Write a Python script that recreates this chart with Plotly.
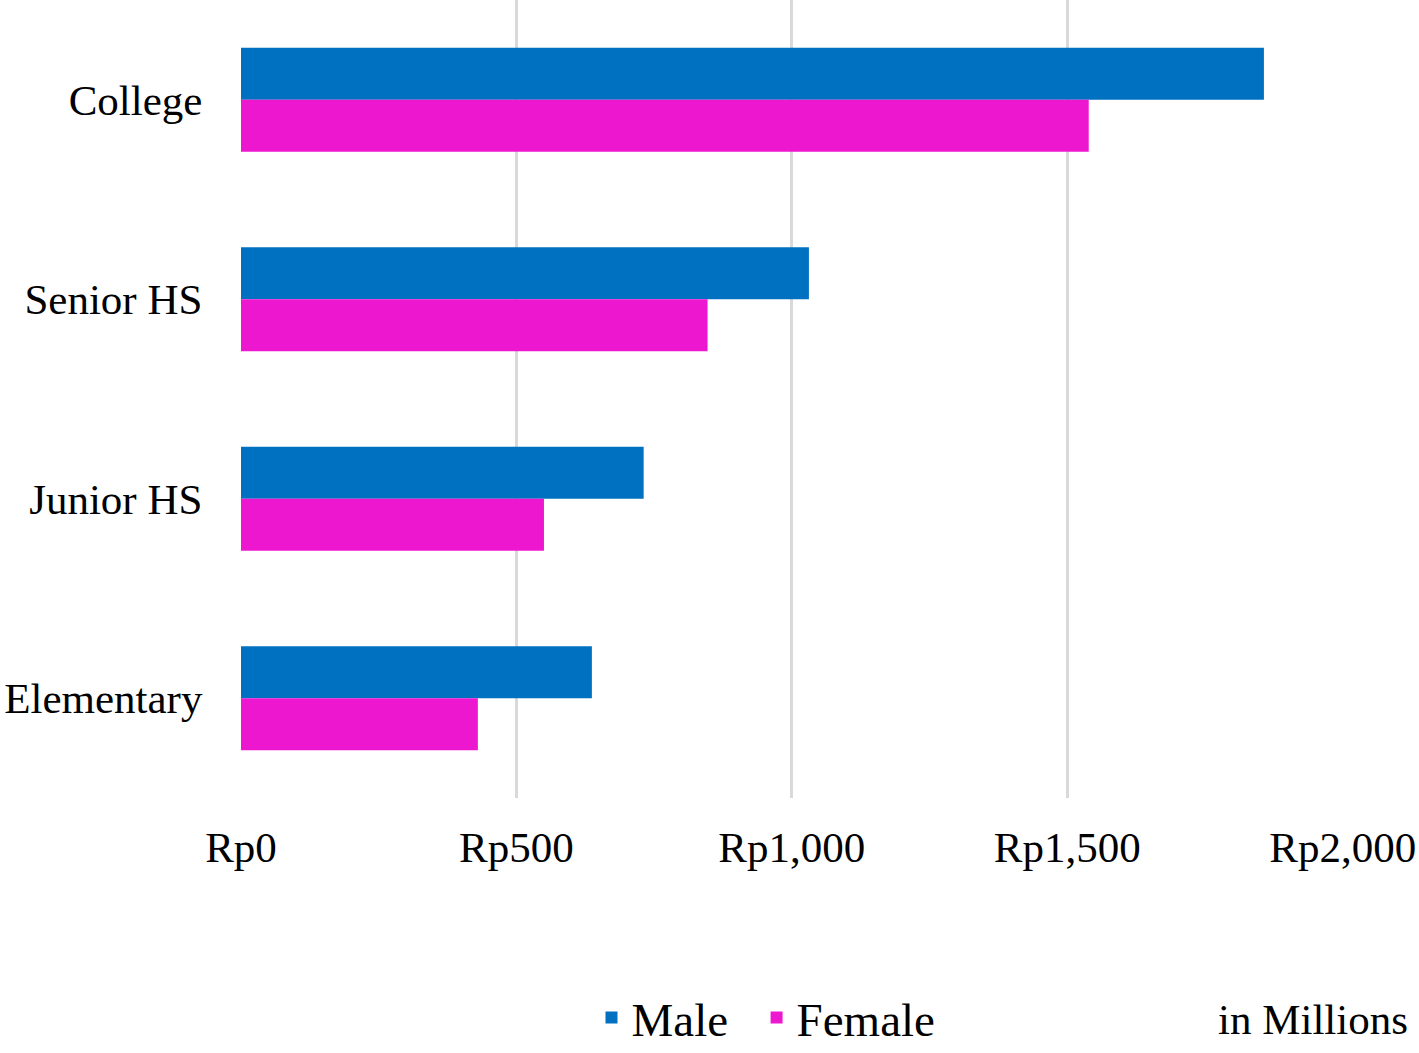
import plotly.graph_objects as go

categories = ["College", "Senior HS", "Junior HS", "Elementary"]
male = [1857, 1031, 731, 637]
female = [1539, 847, 550, 430]
tick_vals = [0, 500, 1000, 1500, 2000]
tick_text = ["Rp0", "Rp500", "Rp1,000", "Rp1,500", "Rp2,000"]

W, H = 1419, 1053
L = 241
R = W - 1343
T = 0
B = H - 798
pw, ph = W - L - R, H - T - B

font = "Liberation Serif, Times New Roman, serif"

fig = go.Figure()
fig.add_trace(go.Bar(y=categories, x=male, name="Male\u00a0\u00a0", orientation="h",
                     marker=dict(color="#0070C0", line=dict(width=0))))
fig.add_trace(go.Bar(y=categories, x=female, name="Female", orientation="h",
                     marker=dict(color="#EE17D0", line=dict(width=0))))

def px_x(p):
    return (p - L) / pw

def px_y(p):
    return (T + ph - p) / ph

def cy(p):
    return 1 - p / H

fig.update_layout(
    width=W, height=H,
    margin=dict(l=L, r=R, t=T, b=B, pad=0, autoexpand=False),
    paper_bgcolor="white", plot_bgcolor="white",
    barmode="group", bargap=0.479, bargroupgap=0,
    font=dict(family=font, size=43, color="black"),
    showlegend=True,
    legend=dict(orientation="h", x=px_x(766), xanchor="center",
                y=cy(1018), yanchor="middle", yref="container",
                font=dict(size=47, family=font, color="black"),
                traceorder="normal", itemwidth=30),
    xaxis=dict(range=[0, 2000.6], tickvals=tick_vals, ticktext=tick_text,
               showgrid=True, gridcolor="#D9D9D9", gridwidth=3,
               zeroline=False, showline=False, automargin=False,
               ticklabeloverflow="allow",
               ticks="outside", ticklen=11, tickcolor="rgba(0,0,0,0)",
               tickfont=dict(size=43, family=font, color="black")),
    yaxis=dict(range=[3.5, -0.5], showgrid=False, zeroline=False,
               showline=False, automargin=False,
               ticks="outside", ticklen=29,
               tickcolor="rgba(0,0,0,0)",
               tickfont=dict(size=43, family=font, color="black")),
    annotations=[dict(text="in Millions", xref="paper", yref="paper",
                      x=px_x(1410), y=px_y(1019), xanchor="right",
                      yanchor="middle", showarrow=False,
                      font=dict(size=43, family=font, color="black"))],
)

fig.write_html("out.html",
               config={"displayModeBar": False},
               post_script="document.body.style.margin='0';"
                           "document.documentElement.style.overflow='hidden';")
